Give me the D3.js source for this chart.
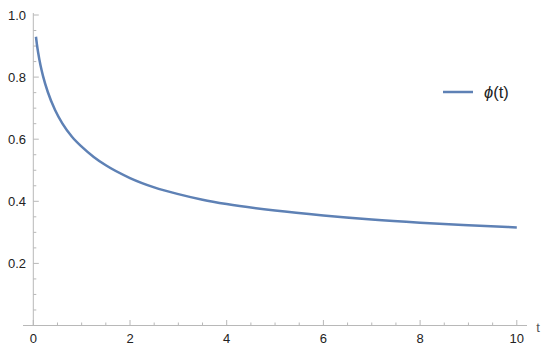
<!DOCTYPE html>
<html>
<head>
<meta charset="utf-8">
<script src="https://cdn.jsdelivr.net/npm/d3@7"></script>
<style>
html,body{margin:0;padding:0;background:#fff;}
svg{display:block;font-family:"Liberation Sans",Arial,sans-serif;}
</style>
</head>
<body>
<svg id="chart" width="550" height="350"></svg>
<script>
// Data
const tValues   = [0.055, 0.075, 0.1, 0.15, 0.2, 0.3, 0.45, 0.6, 0.8, 1.0, 1.25, 1.5, 2, 2.5, 3, 3.5, 4, 5, 6, 7, 8, 9, 10];
const phiValues = [0.930, 0.905, 0.879, 0.837, 0.804, 0.752, 0.694, 0.651, 0.608, 0.576, 0.543, 0.516, 0.475, 0.445, 0.423, 0.405, 0.391, 0.370, 0.354, 0.341, 0.331, 0.323, 0.316];
const xMajorTicks = [0, 2, 4, 6, 8, 10];
const yMajorTicks = [0.2, 0.4, 0.6, 0.8, 1.0];
const seriesName = "ϕ";
const axisLabelX = "t";

const svg = d3.select("#chart");
const x = d3.scaleLinear().domain([0, 10]).range([33.3, 516.8]);
const y = d3.scaleLinear().domain([0, 1]).range([325.5, 15]);

const axisColor = "#b8b8b8";
const textColor = "#222";

// x axis line
svg.append("line").attr("x1", 23).attr("x2", 527)
  .attr("y1", y(0)).attr("y2", y(0))
  .attr("stroke", axisColor).attr("stroke-width", 1);
// y axis line
svg.append("line").attr("x1", x(0)).attr("x2", x(0))
  .attr("y1", y(0)).attr("y2", 13)
  .attr("stroke", axisColor).attr("stroke-width", 1);

// x ticks
const xMinor = d3.range(0, 10.001, 0.5).filter(v => Math.abs(v % 2) > 1e-6);
svg.selectAll(".xmin").data(xMinor).enter().append("line")
  .attr("x1", d => x(d)).attr("x2", d => x(d))
  .attr("y1", y(0)).attr("y2", y(0) - 3)
  .attr("stroke", axisColor);
svg.selectAll(".xmaj").data(xMajorTicks).enter().append("line")
  .attr("x1", d => x(d)).attr("x2", d => x(d))
  .attr("y1", y(0)).attr("y2", y(0) - 5.5)
  .attr("stroke", axisColor);
svg.selectAll(".xlab").data(xMajorTicks).enter().append("text")
  .attr("x", d => x(d)).attr("y", 343)
  .attr("text-anchor", "middle").attr("font-size", 13).attr("fill", textColor)
  .text(d => d3.format("d")(d));

// y ticks
const yMinor = d3.range(0.05, 1.0001, 0.05).filter(v => Math.abs((v * 100) % 20) > 1e-3 && Math.abs((v*100)%20 - 20) > 1e-3);
svg.selectAll(".ymin").data(yMinor).enter().append("line")
  .attr("x1", x(0)).attr("x2", x(0) + 3)
  .attr("y1", d => y(d)).attr("y2", d => y(d))
  .attr("stroke", axisColor);
svg.selectAll(".ymaj").data(yMajorTicks).enter().append("line")
  .attr("x1", x(0)).attr("x2", x(0) + 5.5)
  .attr("y1", d => y(d)).attr("y2", d => y(d))
  .attr("stroke", axisColor);
svg.selectAll(".ylab").data(yMajorTicks).enter().append("text")
  .attr("x", 26).attr("y", d => y(d) + 4.5)
  .attr("text-anchor", "end").attr("font-size", 13).attr("fill", textColor)
  .text(d => d3.format(".1f")(d));

// axis label
svg.append("text").attr("x", 538).attr("y", 332)
  .attr("text-anchor", "middle").attr("font-size", 13).attr("fill", "#555")
  .text(axisLabelX);

// curve
const data = tValues.map((t, i) => ({t: t, v: phiValues[i]}));
const line = d3.line().x(d => x(d.t)).y(d => y(d.v)).curve(d3.curveMonotoneX);
svg.append("path").datum(data).attr("d", line)
  .attr("fill", "none").attr("stroke", "#5E81B5").attr("stroke-width", 2.5);

// legend
svg.append("line").attr("x1", 443).attr("x2", 473).attr("y1", 92).attr("y2", 92)
  .attr("stroke", "#5E81B5").attr("stroke-width", 2.5);
const lt = svg.append("text").attr("x", 484).attr("y", 98)
  .attr("font-size", 16.5).attr("fill", textColor);
lt.append("tspan").attr("font-style", "italic").text(seriesName);
lt.append("tspan").text("(t)");
</script>
</body>
</html>
